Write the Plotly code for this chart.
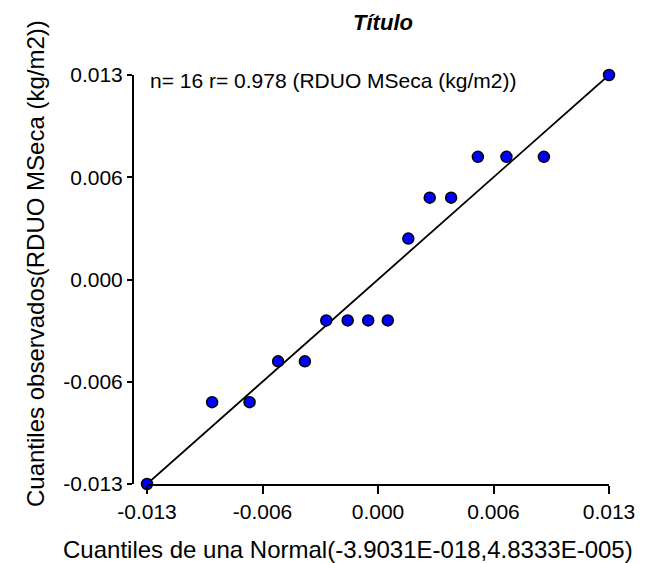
import plotly.graph_objects as go

# Normal Q-Q plot of RDUO MSeca (kg/m2) residuals
theoretical_q = [-0.01295, -0.0093, -0.0072, -0.0056, -0.0041, -0.0029, -0.0017, -0.00055,
                 0.00055, 0.0017, 0.0029, 0.0041, 0.0056, 0.0072, 0.0093, 0.01295]
observed_q = [-0.0125, -0.0075, -0.0075, -0.005, -0.005, -0.0025, -0.0025, -0.0025,
              -0.0025, 0.0025, 0.005, 0.005, 0.0075, 0.0075, 0.0075, 0.0125]

x_tickvals = [-0.01295, -0.006475, 0.0, 0.006475, 0.01295]
y_tickvals = [-0.0125, -0.00625, 0.0, 0.00625, 0.0125]
tick_text = ["-0.013", "-0.006", "0.000", "0.006", "0.013"]

stats_text = "n= 16 r= 0.978 (RDUO MSeca (kg/m2))"
x_title = "Cuantiles de una Normal(-3.9031E-018,4.8333E-005)"
y_title = "Cuantiles observados(RDUO MSeca (kg/m2))"
title_text = "Título"

FONT = "Liberation Sans, Arial, sans-serif"
W, H = 651, 563
ML, MR, MT, MB = 133, 42, 75, 79
plot_w = W - ML - MR
plot_h = H - MT - MB
x_start = 14 / plot_w  # gap between the y axis line and the start of the x axis

fig = go.Figure()

# reference line through the extreme quantiles
fig.add_trace(go.Scatter(
    x=[min(theoretical_q), max(theoretical_q)],
    y=[min(observed_q), max(observed_q)],
    mode="lines",
    line=dict(color="black", width=1.8),
    hoverinfo="skip",
    cliponaxis=False,
    showlegend=False,
))

fig.add_trace(go.Scatter(
    x=theoretical_q,
    y=observed_q,
    mode="markers",
    marker=dict(size=11, color="#0000ff", line=dict(color="black", width=1.5)),
    cliponaxis=False,
    showlegend=False,
))

fig.update_layout(
    width=W,
    height=H,
    margin=dict(l=ML, r=MR, t=MT, b=MB),
    paper_bgcolor="white",
    plot_bgcolor="white",
    font=dict(family=FONT, color="black"),
    title=dict(
        text="<b><i>" + title_text + "</i></b>",
        x=383 / W, xref="container", xanchor="center",
        y=1 - 22 / H, yref="container", yanchor="middle",
        font=dict(size=22, family=FONT, color="black"),
    ),
    xaxis=dict(
        domain=[x_start, 1],
        range=[theoretical_q[0], theoretical_q[-1]],
        tickvals=x_tickvals,
        ticktext=tick_text,
        showgrid=False,
        zeroline=False,
        showline=True,
        linecolor="black",
        linewidth=2,
        ticks="outside",
        ticklen=8,
        tickwidth=2,
        tickcolor="black",
        tickfont=dict(size=21, family=FONT, color="black"),
    ),
    yaxis=dict(
        anchor="free",
        position=0,
        range=[-0.0125, 0.0125],
        tickvals=y_tickvals,
        ticktext=tick_text,
        showgrid=False,
        zeroline=False,
        showline=True,
        linecolor="black",
        linewidth=2,
        ticks="outside",
        ticklen=5,
        tickwidth=2,
        tickcolor="black",
        tickfont=dict(size=21, family=FONT, color="black"),
    ),
    annotations=[
        dict(
            text=stats_text,
            xref="x domain", yref="y domain",
            x=0.002, y=1 - 5 / plot_h,
            xanchor="left", yanchor="middle",
            showarrow=False,
            font=dict(size=21, family=FONT, color="black"),
        ),
        dict(
            text=x_title,
            xref="paper", yref="paper",
            x=(348 - ML) / plot_w, y=-(549 - (H - MB)) / plot_h,
            xanchor="center", yanchor="middle",
            showarrow=False,
            font=dict(size=24, family=FONT, color="black"),
        ),
        dict(
            text=y_title,
            xref="paper", yref="paper",
            x=-(ML - 35) / plot_w, y=(H - MB - 264) / plot_h,
            xanchor="center", yanchor="middle",
            textangle=-90,
            showarrow=False,
            font=dict(size=24, family=FONT, color="black"),
        ),
    ],
)

fig.write_html("out.html")
